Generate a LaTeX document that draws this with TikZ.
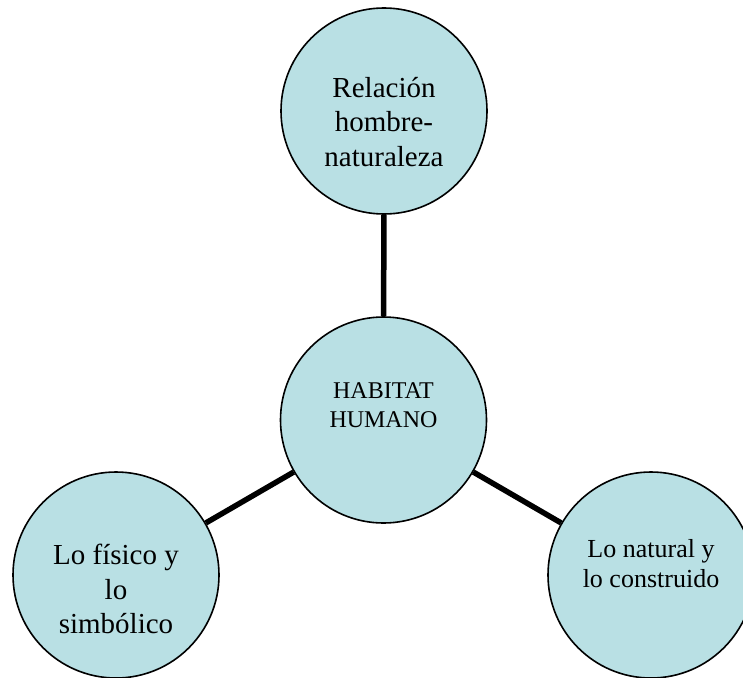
\documentclass[tikz,border=0pt]{standalone}
\usepackage{fontspec}
\setmainfont{Liberation Serif}
\usepackage{tikz}
\definecolor{bubblue}{RGB}{185,224,228}
\tikzset{
  bubble/.style = {circle, draw=black, fill=bubblue, line width=1.6pt, minimum size=206pt, inner sep=0pt},
  bubtext/.style = {align=center, inner sep=0pt, text=black},
  bigtext/.style = {bubtext, font=\fontsize{29}{34.5}\selectfont},
  midtext/.style = {bubtext, font=\fontsize{26}{30}\selectfont},
  captext/.style = {bubtext, font=\fontsize{24}{29}\selectfont},
  link/.style = {line width=5.5pt}
}

\begin{document}
\begin{tikzpicture}[x=1pt, y=-1pt]
    \useasboundingbox (0,0) rectangle (743,677);
    % circles
    \node[bubble] (rel) at (384,111) {};
    \node[bubble] (hab) at (383.5,420) {};
    \node[bubble] (fis) at (116,575) {};
    \node[bubble] (nat) at (651,575) {};
    % connectors
    \draw[link] (rel) -- (hab);
    \draw[link] (hab) -- (fis);
    \draw[link] (hab) -- (nat);
    % texts
    \node[bigtext] (relT) at (384,122) {Relación\\hombre-\\naturaleza};
    \node[captext] (habT) at (383.5,405) {HABITAT\\HUMANO};
    \node[bigtext] (fisT) at (116,589) {Lo físico y\\lo\\simbólico};
    \node[midtext] (natT) at (651,564) {Lo natural y\\lo construido};
\end{tikzpicture}
\end{document}
